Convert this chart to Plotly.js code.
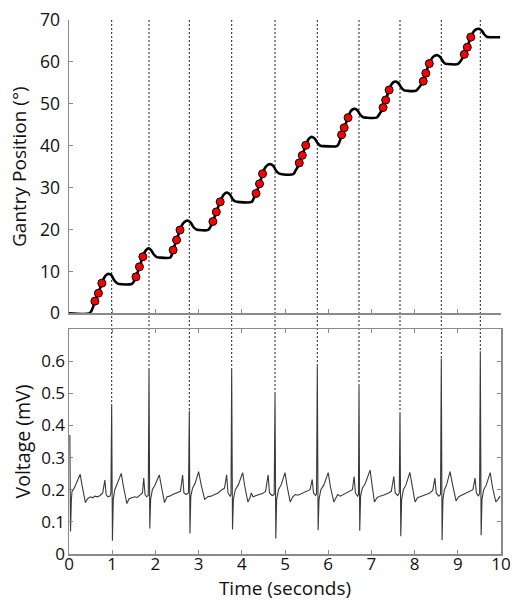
<!DOCTYPE html>
<html>
<head>
<meta charset="utf-8">
<script src="https://cdn.plot.ly/plotly-3.0.1.min.js"></script>
<style>html,body{margin:0;padding:0;background:#fff;}#chart{width:517px;height:605px;}</style>
</head>
<body>
<div id="chart"></div>
<script>
// Gantry position (degrees) vs time (s)
const gantryTime = [0,0.47,0.52,0.56,0.60,0.68,0.76,0.82,0.88,0.93,0.98,1.04,1.10,1.16,1.45,
  1.49,1.52,1.55,1.63,1.71,1.77,1.84,1.90,1.96,2.03,2.10,2.34,
  2.37,2.41,2.49,2.57,2.63,2.70,2.76,2.82,2.88,2.95,3.22,
  3.26,3.29,3.33,3.41,3.50,3.56,3.62,3.67,3.73,3.79,3.85,3.90,4.23,
  4.27,4.30,4.33,4.41,4.48,4.55,4.61,4.67,4.73,4.79,4.86,4.93,5.19,
  5.24,5.29,5.33,5.40,5.48,5.54,5.59,5.63,5.69,5.75,5.82,5.89,6.20,
  6.24,6.28,6.31,6.37,6.46,6.52,6.57,6.62,6.68,6.74,6.81,6.88,7.12,
  7.17,7.22,7.27,7.33,7.41,7.47,7.52,7.57,7.63,7.69,7.76,7.83,8.03,
  8.08,8.14,8.20,8.26,8.34,8.41,8.47,8.53,8.59,8.65,8.71,8.76,9.00,
  9.05,9.10,9.15,9.22,9.30,9.37,9.43,9.49,9.55,9.61,9.67,9.72,9.98];
const gantryPos = [0,0,0.6,1.6,2.9,4.8,7.2,8.6,9.3,9.4,9.1,8.0,7.3,7.0,7.0,
  7.4,8.0,8.7,11.1,13.5,14.9,15.5,15.1,14.1,13.4,13.3,13.3,
  13.7,15.1,17.5,19.9,21.3,22.0,22.1,21.6,20.6,20.0,19.9,
  20.4,21.0,21.9,24.2,26.6,28.0,28.7,28.8,28.3,27.2,26.7,26.6,26.6,
  27.3,27.9,28.6,30.9,33.3,34.9,35.5,35.6,35.2,34.1,33.4,33.2,33.2,
  34.0,34.9,35.9,37.7,40.1,41.5,42.0,42.1,41.7,40.7,40.0,39.9,39.9,
  40.4,41.5,42.6,44.3,46.7,48.2,48.7,48.8,48.4,47.4,46.8,46.7,46.7,
  47.3,48.1,49.1,50.9,53.3,54.7,55.2,55.3,54.9,53.9,53.2,53.1,53.1,
  53.6,54.4,55.4,57.3,59.6,61.0,61.5,61.6,61.2,60.2,59.6,59.5,59.5,
  60.0,60.8,61.8,63.5,65.9,67.3,67.8,67.9,67.5,66.6,66.0,65.9,65.9];

// Red markers on the rising portions
const dotTime = [0.60,0.68,0.76, 1.55,1.63,1.71, 2.41,2.49,2.57, 3.33,3.41,3.50, 4.33,4.41,4.48,
  5.33,5.40,5.48, 6.31,6.37,6.46, 7.27,7.33,7.41, 8.20,8.26,8.34, 9.15,9.22,9.30];
const dotPos = [2.9,4.8,7.2, 8.7,11.1,13.5, 15.1,17.5,19.9, 21.9,24.2,26.6, 28.6,30.9,33.3,
  35.9,37.7,40.1, 42.6,44.3,46.7, 49.1,50.9,53.3, 55.4,57.3,59.6, 61.8,63.5,65.9];

// ECG voltage (mV)
const ecgTime = [0.02,0.035,0.055,0.07,0.12,0.18,0.26,0.30,0.38,0.43,0.50,0.55,0.60,0.66,0.72,0.78,0.83,0.86,0.90,0.95,0.97,
  0.988,1.005,1.025,1.06,1.12,1.21,1.26,1.34,1.39,1.45,1.52,1.58,1.64,1.70,1.73,1.76,1.80,1.835,
  1.852,1.87,1.89,1.93,1.99,2.09,2.14,2.21,2.27,2.33,2.40,2.46,2.52,2.58,2.63,2.66,2.71,2.765,
  2.785,2.80,2.82,2.86,2.92,3.00,3.06,3.14,3.21,3.29,3.37,3.45,3.53,3.60,3.65,3.68,3.73,3.75,
  3.766,3.785,3.805,3.85,3.92,4.02,4.07,4.14,4.19,4.22,4.26,4.32,4.40,4.48,4.55,4.61,4.64,4.70,4.75,
  4.769,4.787,4.807,4.85,4.91,5.00,5.05,5.12,5.18,5.24,5.30,5.38,5.45,5.52,5.58,5.63,5.66,5.71,5.73,
  5.748,5.767,5.787,5.83,5.90,6.00,6.05,6.13,6.18,6.22,6.28,6.35,6.42,6.50,6.56,6.60,6.63,6.68,6.70,
  6.713,6.73,6.75,6.79,6.86,6.97,7.01,7.07,7.13,7.19,7.26,7.33,7.40,7.46,7.52,7.55,7.61,7.645,
  7.662,7.68,7.70,7.74,7.80,7.89,7.94,8.01,8.07,8.14,8.21,8.28,8.35,8.42,8.47,8.50,8.56,8.60,
  8.618,8.636,8.656,8.69,8.74,8.82,8.88,8.96,9.02,9.08,9.15,9.22,9.29,9.35,9.40,9.43,9.48,9.505,
  9.521,9.54,9.56,9.60,9.66,9.75,9.80,9.88,9.93,9.98];
const ecgVolt = [0.37,0.07,0.17,0.195,0.205,0.225,0.248,0.215,0.16,0.172,0.178,0.175,0.18,0.178,0.182,0.19,0.23,0.185,0.178,0.18,0.19,
  0.467,0.041,0.17,0.20,0.22,0.251,0.21,0.157,0.172,0.175,0.178,0.176,0.182,0.19,0.236,0.185,0.178,0.182,
  0.579,0.079,0.17,0.20,0.215,0.246,0.21,0.16,0.178,0.18,0.185,0.188,0.19,0.195,0.246,0.19,0.185,0.19,
  0.446,0.064,0.18,0.205,0.22,0.256,0.215,0.17,0.178,0.18,0.185,0.19,0.199,0.205,0.246,0.19,0.18,0.185,
  0.576,0.076,0.17,0.20,0.215,0.253,0.21,0.162,0.175,0.19,0.178,0.18,0.185,0.188,0.195,0.246,0.19,0.182,0.185,
  0.501,0.048,0.17,0.20,0.215,0.253,0.21,0.162,0.178,0.185,0.183,0.188,0.19,0.195,0.20,0.232,0.19,0.182,0.188,
  0.584,0.074,0.17,0.20,0.215,0.253,0.21,0.162,0.175,0.185,0.18,0.185,0.19,0.195,0.20,0.241,0.19,0.18,0.185,
  0.524,0.072,0.18,0.205,0.22,0.261,0.22,0.162,0.175,0.18,0.182,0.185,0.19,0.195,0.242,0.19,0.182,0.19,
  0.441,0.055,0.17,0.20,0.215,0.254,0.21,0.162,0.175,0.178,0.182,0.186,0.19,0.198,0.236,0.19,0.18,0.185,
  0.608,0.043,0.17,0.20,0.215,0.256,0.215,0.165,0.178,0.182,0.185,0.19,0.195,0.20,0.236,0.19,0.18,0.19,
  0.631,0.058,0.17,0.20,0.215,0.253,0.21,0.162,0.17,0.18];

// R-peak times and heights (dashed guide lines)
const rPeakTime = [0.988,1.852,2.785,3.766,4.769,5.748,6.713,7.662,8.618,9.521];
const rPeakVolt = [0.467,0.579,0.446,0.576,0.501,0.584,0.524,0.441,0.608,0.631];

const xTicks = [0,1,2,3,4,5,6,7,8,9,10];
const gantryTicks = [0,10,20,30,40,50,60,70];
const voltTicks = [0,0.1,0.2,0.3,0.4,0.5,0.6];
const voltTickText = ['0','0.1','0.2','0.3','0.4','0.5','0.6'];

const topDomain = [0.4507, 1];
const botDomain = [0, 0.4213];
const voltMax = 0.7;

const axisColor = '#8a8a8a';
const fontFam = '"Open Sans", sans-serif';

const traces = [
  {x: gantryTime, y: gantryPos, xaxis: 'x', yaxis: 'y', mode: 'lines', type: 'scatter',
   line: {color: '#000', width: 2.6, shape: 'spline', smoothing: 0.8}, hoverinfo: 'skip'},
  {x: dotTime, y: dotPos, xaxis: 'x', yaxis: 'y', mode: 'markers', type: 'scatter',
   marker: {color: '#ff0000', size: 8, line: {color: '#000', width: 1}}, hoverinfo: 'skip'},
  {x: ecgTime, y: ecgVolt, xaxis: 'x2', yaxis: 'y2', mode: 'lines', type: 'scatter',
   line: {color: '#3a3a3a', width: 1.1}, hoverinfo: 'skip'}
];

const shapes = rPeakTime.map((t, i) => ({
  type: 'line', xref: 'x', yref: 'paper', x0: t, x1: t,
  y0: topDomain[1], y1: botDomain[0] + (rPeakVolt[i] / voltMax) * (botDomain[1] - botDomain[0]),
  line: {color: '#222', width: 1, dash: '2px,2px'}, layer: 'below'
}));

const commonAxis = {
  showgrid: false, zeroline: false, showline: true, linecolor: axisColor, linewidth: 1.5,
  ticks: 'inside', ticklen: 4, tickcolor: axisColor, tickwidth: 1,
  tickfont: {family: fontFam, size: 17, color: '#111'}
};

const layout = {
  width: 517, height: 605,
  margin: {l: 69, r: 16, t: 20, b: 51},
  paper_bgcolor: '#fff', plot_bgcolor: '#fff',
  showlegend: false,
  font: {family: fontFam, color: '#111'},
  xaxis: Object.assign({}, commonAxis, {
    domain: [0, 1], anchor: 'y', range: [0, 10], tickvals: xTicks, showticklabels: false
  }),
  yaxis: Object.assign({}, commonAxis, {
    domain: topDomain, anchor: 'x', range: [0, 70], tickvals: gantryTicks, ticklabelstandoff: 4,
    tickfont: {family: fontFam, size: 17.5, color: '#111'},
    title: {text: 'Gantry Position (°)', standoff: 8, font: {family: fontFam, size: 19, color: '#111'}}
  }),
  xaxis2: Object.assign({}, commonAxis, {
    domain: [0, 1], anchor: 'y2', range: [0, 10], tickvals: xTicks, mirror: 'ticks', ticklabelstandoff: -6,
    title: {text: 'Time (seconds)', standoff: 0, font: {family: fontFam, size: 19, color: '#111'}}
  }),
  yaxis2: Object.assign({}, commonAxis, {
    domain: botDomain, anchor: 'x2', range: [0, voltMax], tickvals: voltTicks, ticktext: voltTickText, mirror: 'ticks',
    ticklabelstandoff: -1,
    title: {text: 'Voltage (mV)', standoff: 5, font: {family: fontFam, size: 19.5, color: '#111'}}
  }),
  shapes: shapes
};

Plotly.newPlot('chart', traces, layout, {displayModeBar: false, staticPlot: true});
</script>
</body>
</html>
